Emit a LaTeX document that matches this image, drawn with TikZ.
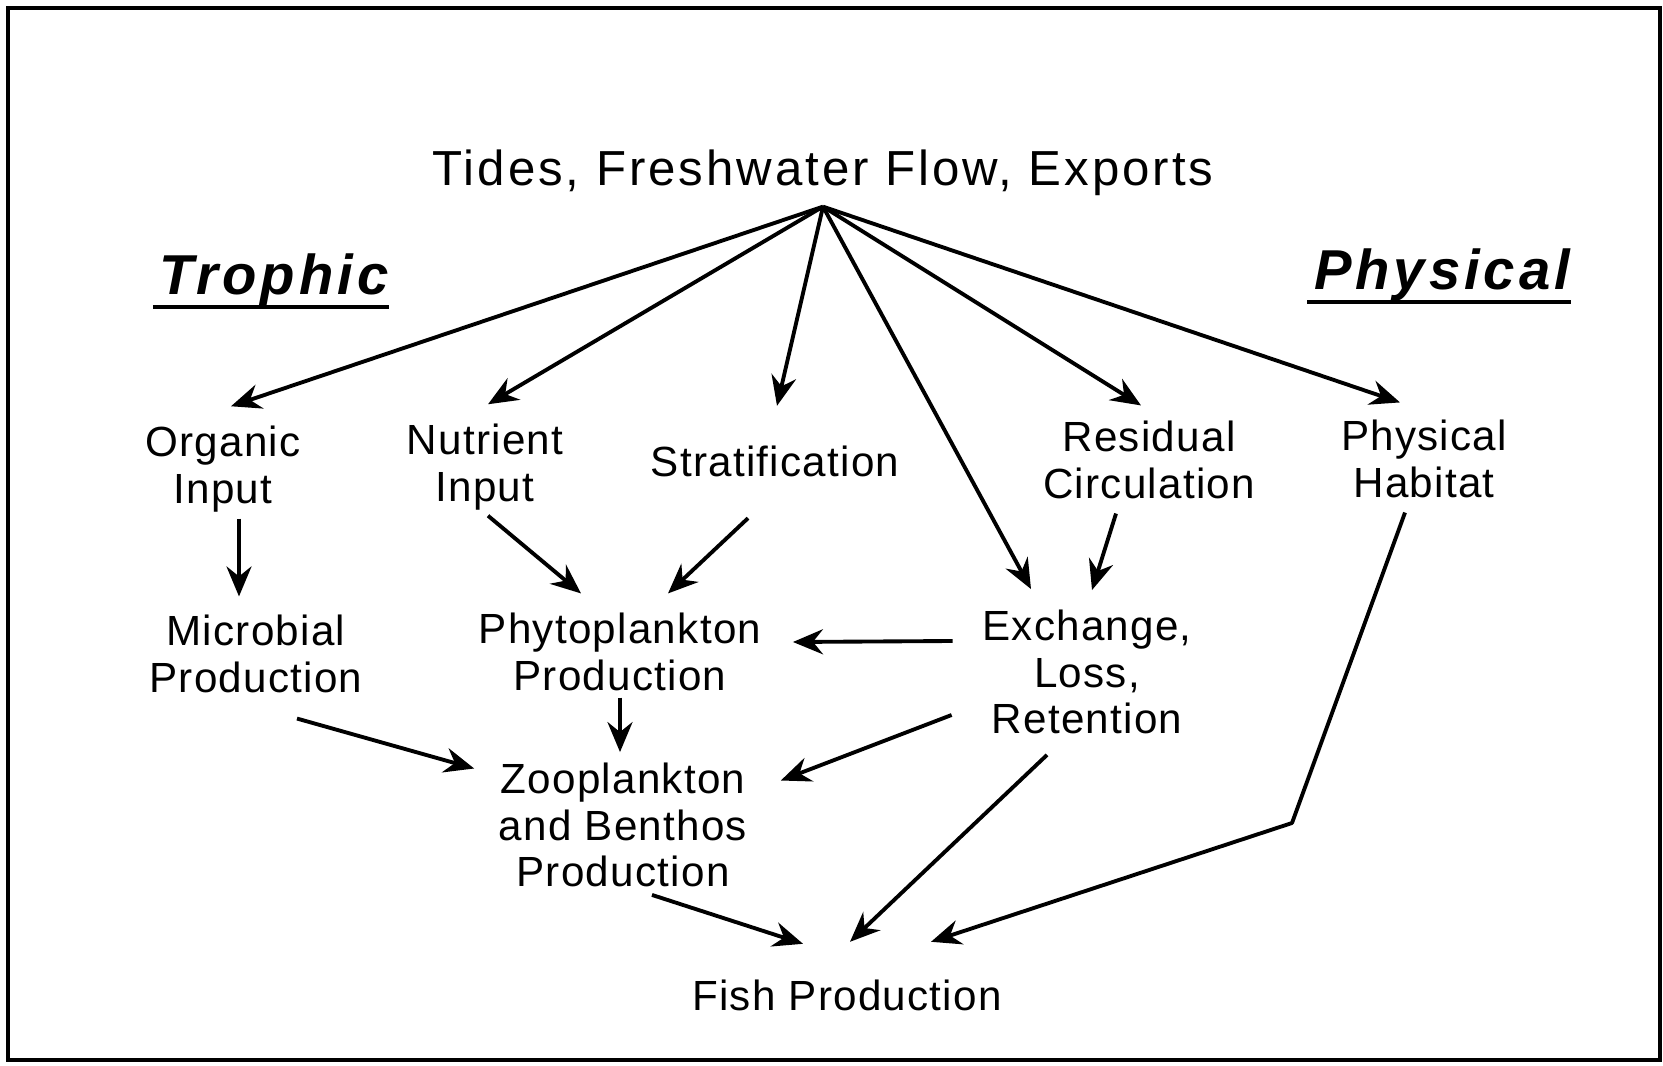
\documentclass[tikz,border=0pt]{standalone}
\usepackage{fontspec}
\setmainfont{Liberation Sans}
\newfontfamily\labelfont[LetterSpace=3]{Liberation Sans}
\newfontfamily\titlefont[LetterSpace=6]{Liberation Sans}
\newfontfamily\headfont[LetterSpace=7]{Liberation Sans}
\usetikzlibrary{arrows.meta}
\begin{document}
\begin{tikzpicture}[
  box/.style={align=center, inner sep=1mm, font=\labelfont\fontsize{12}{13.3}\selectfont},
  head/.style={inner sep=0pt, font=\headfont\fontsize{16}{19}\selectfont\bfseries\itshape},
  arr/.style={-{Stealth[length=3mm,width=2.5mm,inset=1mm]}, line width=1.1pt, line join=round}]
  \useasboundingbox (0,0) rectangle (16.63,-10.66);
  \draw[line width=1pt] (0.08,-0.08) rectangle (16.60,-10.60);
  % drivers and headings
  \node[box, font=\titlefont\fontsize{14}{16}\selectfont] (title) at (8.23,-1.73) {Tides, Freshwater Flow, Exports};
  \coordinate (src) at (title.south);
  \node[head] (trophic) at (2.74,-2.80) {Trophic};
  \node[head] (physical) at (14.42,-2.75) {Physical};
  \draw[line width=1.3pt] ([xshift=-0.06cm]trophic.south west) -- (trophic.south east);
  \draw[line width=1.3pt] ([xshift=-0.06cm]physical.south west) -- (physical.south east);
  % first row
  \node[box] (organic) at (2.23,-4.69) {Organic\\Input};
  \node[box] (nutrient) at (4.85,-4.67) {Nutrient\\Input};
  \node[box] (strat) at (7.75,-4.61) {Stratification};
  \node[box] (residual) at (11.49,-4.60) {Residual\\Circulation};
  \node[box] (habitat) at (14.24,-4.59) {Physical\\Habitat};
  % second row
  \node[box] (micro) at (2.56,-6.54) {Microbial\\Production};
  \node[box] (phyto) at (6.20,-6.52) {Phytoplankton\\Production};
  \node[box] (exchange) at (10.87,-6.72) {Exchange,\\Loss,\\Retention};
  % lower rows
  \node[box] (zoo) at (6.23,-8.25) {Zooplankton\\and Benthos\\Production};
  \node[box] (fish) at (8.47,-9.95) {Fish Production};
  \coordinate (bend) at (12.92,-8.23);
  % arrows from the drivers
  \draw[arr] (src) -- ([shift={(0.08,0.09)}]organic.north);
  \draw[arr] (src) -- ([shift={(0.03,0.09)}]nutrient.north);
  \draw[arr] (src) -- ([shift={(0.02,0.29)}]strat.north);
  \draw[arr] (src) -- ([shift={(-0.56,0.10)}]exchange.north);
  \draw[arr] (src) -- ([shift={(-0.08,0.05)}]residual.north);
  \draw[arr] (src) -- ([shift={(-0.24,0.07)}]habitat.north);
  % trophic links
  \draw[arr] ([shift={(0.16,0.04)}]organic.south) -- ([shift={(-0.17,0.08)}]micro.north);
  \draw[arr] ([shift={(0.03,0.05)}]nutrient.south) -- ([shift={(-0.39,0.09)}]phyto.north);
  \draw[arr] ([shift={(-0.27,-0.31)}]strat.south) -- ([shift={(0.48,0.09)}]phyto.north);
  \draw[arr] ([shift={(-0.33,-0.04)}]residual.south) -- ([shift={(0.05,0.09)}]exchange.north);
  \draw[arr] ([shift={(-0.19,0.31)}]exchange.west) -- ([shift={(0.21,0.10)}]phyto.east);
  \draw[arr] ([yshift=0.04cm]phyto.south) -- (phyto.south |- zoo.north);
  \draw[arr] ([shift={(0.41,-0.15)}]micro.south) -- ([shift={(-0.14,0.565)}]zoo.west);
  \draw[arr] ([shift={(-0.20,-0.43)}]exchange.west) -- ([shift={(0.23,0.445)}]zoo.east);
  % into fish production
  \draw[arr] ([shift={(0.29,0.03)}]zoo.south) -- ([shift={(-0.44,0.25)}]fish.north);
  \draw[arr] ([shift={(-0.40,-0.10)}]exchange.south) -- ([shift={(0.03,0.27)}]fish.north);
  \draw[arr] ([shift={(-0.19,-0.04)}]habitat.south) -- (bend) -- ([shift={(0.84,0.27)}]fish.north);
\end{tikzpicture}
\end{document}
